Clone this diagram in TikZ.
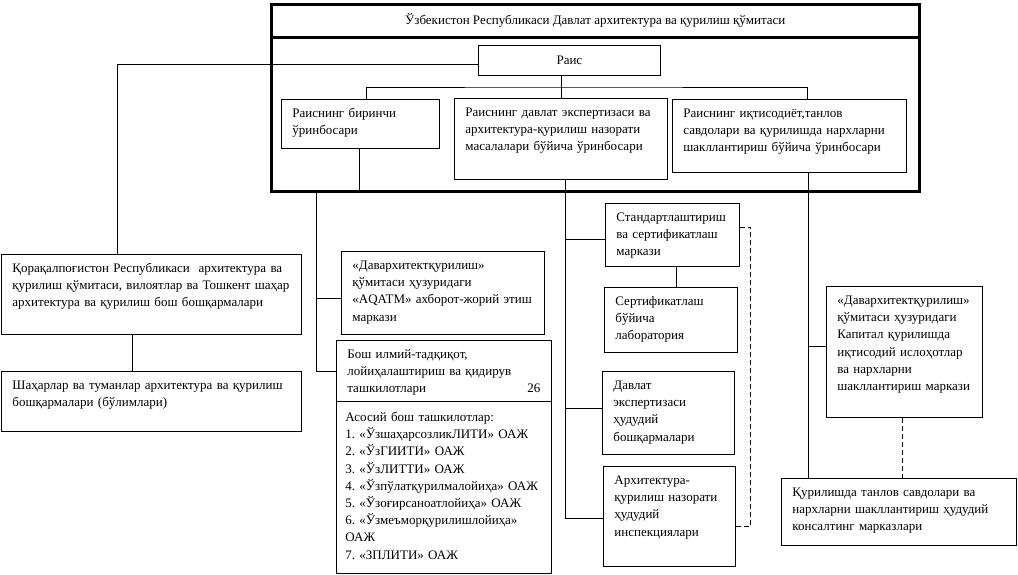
\documentclass[tikz,border=0pt]{standalone}
\usepackage{fontspec}
\setmainfont{Liberation Serif}
\begin{document}
\frenchspacing
\begin{tikzpicture}[x=1pt, y=-1pt,
  font=\fontsize{13}{17.2}\selectfont,
  blk/.style={draw, line width=.8pt, anchor=north west, align=left, inner xsep=11pt, inner ysep=0pt, text height=18pt},
  ctr/.style={draw, line width=.8pt, anchor=north west, inner sep=0pt},
  frm/.style={draw, line width=2.6pt, anchor=north west, inner sep=0pt},
  link/.style={line width=.8pt},
  dashlink/.style={line width=.8pt, dash pattern=on 5pt off 3pt}]
\useasboundingbox (0,0) rectangle (1018,575);
% committee frame
\node[frm, minimum width=648, minimum height=33] (title) at (270,3) {Ўзбекистон Республикаси Давлат архитектура ва қурилиш қўмитаси};
\node[frm, minimum width=648, minimum height=154] (board) at (270,36) {};
\node[ctr, minimum width=182, minimum height=30] (rais) at (478,45) {Раис};
\node[blk, text width=136, text depth=31] (dep1) at (281,99) {Раиснинг биринчи\\ ўринбосари};
\node[blk, text width=191, text depth=63] (dep2) at (454,98) {Раиснинг давлат экспертизаси ва\\ архитектура-қурилиш назорати\\ масалалари бўйича ўринбосари};
\node[blk, text width=212, text depth=55] (dep3) at (672,99) {Раиснинг иқтисодиёт,танлов\\ савдолари ва қурилишда нархларни\\ шакллантириш бўйича ўринбосари};
% left column
\node[blk, text width=278, text depth=62] (qqr) at (1,254) {Қорақалпоғистон Республикаси\ \ архитектура ва\\ қурилиш қўмитаси, вилоятлар ва Тошкент шаҳар\\ архитектура ва қурилиш бош бошқармалари};
\node[blk, text width=278, text depth=42] (shah) at (1,371) {Шаҳарлар ва туманлар архитектура ва қурилиш\\ бошқармалари (бўлимлари)};
\node[blk, text width=181, text depth=65] (aqatm) at (341,251) {«Давархитектқурилиш»\\ қўмитаси ҳузуридаги\\ «AQATM» ахборот-жорий этиш\\ маркази};
\node[blk, text width=193, text depth=43] (bosh) at (336,340) {Бош илмий-тадқиқот,\\ лойиҳалаштириш ва қидирув\\ ташкилотлари\hfill 26\hspace{13pt}};
\node[blk, inner xsep=9pt, text width=197, text height=20, text depth=152] (boshlist) at (336,401) {Асосий бош ташкилотлар:\\ 1. «ЎзшаҳарсозликЛИТИ» ОАЖ\\ 2. «ЎзГИИТИ» ОАЖ\\ 3. «ЎзЛИТТИ» ОАЖ\\ 4. «Ўзпўлатқурилмалойиҳа» ОАЖ\\ 5. «Ўзоғирсаноатлойиҳа» ОАЖ\\ 6. «Ўзмеъморқурилишлойиҳа»\\ ОАЖ\\ 7. «ЗПЛИТИ» ОАЖ};
% middle column
\node[blk, text width=112, text depth=45] (std) at (605,203) {Стандартлаштириш\\ ва сертификатлаш\\ маркази};
\node[blk, text width=111, text depth=47] (cert) at (604,287) {Сертификатлаш\\ бўйича\\ лаборатория};
\node[blk, text width=110, text depth=65] (dav) at (602,371) {Давлат\\ экспертизаси\\ ҳудудий\\ бошқармалари};
\node[blk, text width=110, text depth=82] (arch) at (603,466) {Архитектура-\\ қурилиш назорати\\ ҳудудий\\ инспекциялари};
% right column
\node[blk, text width=134, text depth=113] (kap) at (826,286) {«Давархитектқурилиш»\\ қўмитаси ҳузуридаги\\ Капитал қурилишда\\ иқтисодий ислоҳотлар\\ ва нархларни\\ шакллантириш маркази};
\node[blk, text width=213, text depth=49] (kons) at (781,478) {Қурилишда танлов савдолари ва\\ нархларни шакллантириш ҳудудий\\ консалтинг марказлари};
% connectors
\draw[link] ([yshift=-4pt]rais.west) -| ([xshift=-34pt]qqr.north);
\draw[link] (dep2.north) -- (dep2.north |- rais.south);
\draw[link] ([xshift=6pt]dep1.north) |- ([yshift=11pt]dep2.north) -| ([xshift=18pt]dep3.north);
\draw[link] ([xshift=-1pt]dep1.south) -- ([xshift=-1pt]dep1.south |- board.south);
\draw[link] ([xshift=-20pt]bosh.west |- board.south) |- (bosh.west);
\draw[link] ([yshift=-5pt]aqatm.west) -- ++(-25pt,0);
\draw[link] ([xshift=-19pt]qqr.south) -- ([xshift=-19pt]shah.north);
\draw[link] ([xshift=4pt]dep2.south) |- ([yshift=-2pt]arch.west);
\draw[link] ([yshift=-4pt]std.west) -- ++(-40pt,0);
\draw[link] ([yshift=5pt]dav.west) -- ++(-37pt,0);
\draw[link] ([xshift=4pt]std.south) -- ([xshift=4pt]std.south |- cert.north);
\draw[dashlink] ([yshift=8pt]std.east) -- ++(11pt,0) |- ([yshift=-10pt]arch.east);
\draw[link] ([xshift=19pt]dep3.south) -- ([xshift=19pt]dep3.south |- kons.north);
\draw[link] ([yshift=6pt]kap.west) -- ++(-18pt,0);
\draw[dashlink] ([xshift=-2pt]kap.south) -- ([xshift=-2pt]kap.south |- kons.north);
\end{tikzpicture}
\end{document}
